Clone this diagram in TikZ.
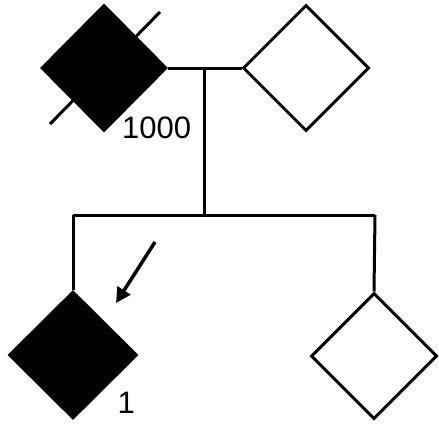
\documentclass[tikz,border=0pt]{standalone}
\usepackage{fontspec}
\setmainfont{Liberation Sans}
\usetikzlibrary{shapes.geometric,arrows.meta}
\begin{document}
\begin{tikzpicture}[x=1pt,y=-1pt,
  ln/.style={line width=3pt},
  affected/.style={diamond,fill=black,inner sep=0pt,minimum width=128pt,minimum height=129pt},
  unaffected/.style={diamond,draw=black,line width=3pt,fill=white,inner sep=0pt,minimum width=126pt,minimum height=126pt},
  lbl/.style={inner sep=0pt,anchor=base west,font=\fontsize{31}{36}\selectfont}]
\useasboundingbox (0,0) rectangle (439,423);
% parents
\node[affected] (A) at (104,68) {};
\node[unaffected] (B) at (306,68) {};
\draw[ln] ([shift={(-54,56)}]A.center) -- ([shift={(56,-56)}]A.center);
\draw[ln] (A.east) -- (B.west);
\coordinate (M) at (204,68);
\coordinate (S) at (204,215);
\coordinate (SL) at (73,215);
\coordinate (SR) at (375,215);
\draw[ln] (M) -- (S);
\draw[ln] (SL) -- (SR);
% children
\node[affected,minimum width=131pt,minimum height=130pt] (C) at (73,355) {};
\node[unaffected] (D) at (374,356) {};
\draw[ln] (SL) -- (C.north);
\draw[ln] (SR) -- (D.north);
% labels
\node[lbl] (L1) at (122,138) {1000};
\node[lbl] (L2) at (117.5,413) {1};
% proband arrow
\coordinate (P0) at (155,242);
\coordinate (P1) at (116,303);
\draw[line width=3.5pt,-{Triangle[length=15pt,width=15pt]}] (P0) -- (P1);
\end{tikzpicture}
\end{document}
